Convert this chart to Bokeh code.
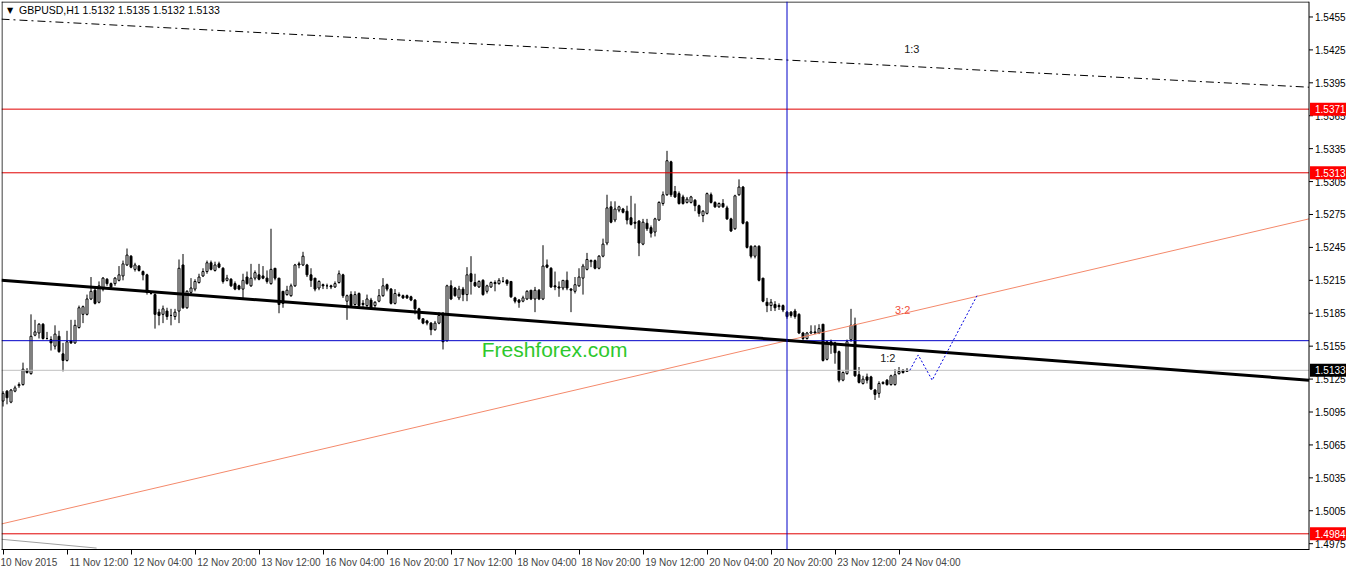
from bokeh.plotting import figure
from bokeh.models import Span, FixedTicker, Range1d, ColumnDataSource
from bokeh.core.properties import value
from bokeh.embed import file_html
from bokeh.resources import INLINE

# ---------------- data (GBPUSD H1) ----------------
opens = [1.5105,1.5114,1.5104,1.5114,1.5119,1.5120,1.5133,1.5130,1.5165,1.5167,
         1.5175,1.5162,1.5161,1.5155,1.5164,1.5148,1.5142,1.5160,1.5158,1.5172,
         1.5184,1.5184,1.5198,1.5206,1.5195,1.5207,1.5216,1.5212,1.5212,1.5215,
         1.5219,1.5229,1.5237,1.5225,1.5228,1.5223,1.5220,1.5203,1.5202,1.5186,
         1.5184,1.5187,1.5183,1.5182,1.5187,1.5229,1.5190,1.5204,1.5207,1.5213,
         1.5219,1.5223,1.5231,1.5224,1.5230,1.5226,1.5215,1.5216,1.5212,1.5210,
         1.5207,1.5218,1.5210,1.5217,1.5220,1.5219,1.5217,1.5212,1.5226,1.5217,
         1.5205,1.5202,1.5201,1.5210,1.5230,1.5229,1.5229,1.5220,1.5217,1.5208,
         1.5211,1.5210,1.5210,1.5209,1.5213,1.5220,1.5196,1.5202,1.5193,1.5203,
         1.5194,1.5192,1.5197,1.5192,1.5196,1.5201,1.5211,1.5207,1.5194,1.5202,
         1.5201,1.5201,1.5200,1.5197,1.5189,1.5180,1.5178,1.5176,1.5170,1.5176,
         1.5185,1.5160,1.5210,1.5208,1.5199,1.5207,1.5202,1.5221,1.5213,1.5209,
         1.5215,1.5205,1.5209,1.5213,1.5212,1.5214,1.5215,1.5214,1.5199,1.5197,
         1.5196,1.5198,1.5206,1.5198,1.5206,1.5198,1.5229,1.5226,1.5210,1.5209,
         1.5208,1.5215,1.5207,1.5205,1.5210,1.5217,1.5225,1.5232,1.5233,1.5226,
         1.5237,1.5249,1.5282,1.5270,1.5279,1.5280,1.5278,1.5272,1.5268,1.5269,
         1.5248,1.5267,1.5263,1.5259,1.5270,1.5285,1.5293,1.5323,1.5296,1.5294,
         1.5291,1.5286,1.5286,1.5288,1.5283,1.5274,1.5276,1.5293,1.5286,1.5282,
         1.5285,1.5281,1.5271,1.5262,1.5293,1.5300,1.5268,1.5246,1.5237,1.5246,
         1.5217,1.5195,1.5192,1.5193,1.5192,1.5192,1.5186,1.5186,1.5187,1.5184,
         1.5167,1.5162,1.5167,1.5168,1.5167,1.5175,1.5143,1.5159,1.5158,1.5150,
         1.5124,1.5130,1.5161,1.5175,1.5129,1.5121,1.5127,1.5127,1.5115,1.5112,
         1.5121,1.5124,1.5120,1.5120,1.5130,1.5133,1.5132]
highs = [1.5114,1.5115,1.5116,1.5119,1.5122,1.5140,1.5135,1.5184,1.5179,1.5176,
         1.5176,1.5168,1.5164,1.5174,1.5169,1.5158,1.5169,1.5179,1.5179,1.5192,
         1.5192,1.5202,1.5218,1.5209,1.5214,1.5218,1.5217,1.5213,1.5218,1.5228,
         1.5233,1.5244,1.5238,1.5231,1.5229,1.5224,1.5221,1.5205,1.5203,1.5189,
         1.5192,1.5190,1.5189,1.5189,1.5234,1.5239,1.5206,1.5217,1.5216,1.5221,
         1.5226,1.5233,1.5233,1.5232,1.5232,1.5227,1.5220,1.5217,1.5214,1.5211,
         1.5221,1.5223,1.5230,1.5224,1.5230,1.5228,1.5224,1.5262,1.5226,1.5217,
         1.5205,1.5210,1.5212,1.5230,1.5232,1.5241,1.5230,1.5226,1.5217,1.5215,
         1.5212,1.5212,1.5211,1.5214,1.5224,1.5221,1.5202,1.5205,1.5205,1.5204,
         1.5197,1.5202,1.5199,1.5196,1.5207,1.5217,1.5212,1.5208,1.5207,1.5204,
         1.5202,1.5202,1.5201,1.5198,1.5190,1.5180,1.5179,1.5177,1.5178,1.5186,
         1.5186,1.5211,1.5215,1.5209,1.5210,1.5209,1.5227,1.5237,1.5221,1.5215,
         1.5216,1.5211,1.5214,1.5215,1.5217,1.5218,1.5216,1.5214,1.5200,1.5198,
         1.5201,1.5206,1.5206,1.5209,1.5207,1.5247,1.5234,1.5227,1.5223,1.5214,
         1.5215,1.5223,1.5208,1.5218,1.5226,1.5230,1.5240,1.5234,1.5234,1.5238,
         1.5253,1.5293,1.5287,1.5287,1.5283,1.5281,1.5283,1.5292,1.5285,1.5270,
         1.5271,1.5271,1.5265,1.5272,1.5287,1.5296,1.5333,1.5324,1.5301,1.5296,
         1.5293,1.5291,1.5292,1.5289,1.5284,1.5279,1.5295,1.5295,1.5287,1.5286,
         1.5289,1.5283,1.5272,1.5293,1.5307,1.5301,1.5269,1.5247,1.5247,1.5247,
         1.5217,1.5199,1.5198,1.5196,1.5194,1.5193,1.5187,1.5187,1.5189,1.5185,
         1.5168,1.5168,1.5174,1.5174,1.5175,1.5175,1.5160,1.5161,1.5159,1.5151,
         1.5132,1.5161,1.5189,1.5181,1.5136,1.5128,1.5130,1.5128,1.5116,1.5123,
         1.5123,1.5125,1.5129,1.5134,1.5136,1.5134,1.5135]
lows = [1.5100,1.5102,1.5103,1.5113,1.5117,1.5119,1.5130,1.5129,1.5164,1.5162,
        1.5161,1.5161,1.5151,1.5152,1.5149,1.5132,1.5141,1.5157,1.5157,1.5171,
        1.5176,1.5183,1.5197,1.5193,1.5194,1.5205,1.5210,1.5208,1.5210,1.5214,
        1.5215,1.5228,1.5226,1.5223,1.5223,1.5215,1.5202,1.5202,1.5171,1.5174,
        1.5176,1.5179,1.5174,1.5179,1.5176,1.5189,1.5189,1.5202,1.5205,1.5212,
        1.5218,1.5221,1.5224,1.5223,1.5226,1.5212,1.5214,1.5209,1.5206,1.5206,
        1.5198,1.5211,1.5209,1.5215,1.5215,1.5216,1.5212,1.5211,1.5215,1.5185,
        1.5190,1.5201,1.5200,1.5209,1.5226,1.5228,1.5218,1.5209,1.5205,1.5206,
        1.5207,1.5207,1.5207,1.5208,1.5212,1.5199,1.5179,1.5190,1.5192,1.5190,
        1.5189,1.5189,1.5189,1.5190,1.5195,1.5200,1.5205,1.5193,1.5193,1.5200,
        1.5198,1.5198,1.5196,1.5184,1.5179,1.5175,1.5174,1.5165,1.5169,1.5175,
        1.5152,1.5159,1.5197,1.5200,1.5197,1.5196,1.5196,1.5202,1.5209,1.5208,
        1.5201,1.5203,1.5208,1.5205,1.5211,1.5213,1.5210,1.5199,1.5194,1.5190,
        1.5195,1.5197,1.5197,1.5186,1.5197,1.5197,1.5226,1.5208,1.5206,1.5200,
        1.5206,1.5206,1.5186,1.5203,1.5209,1.5202,1.5224,1.5227,1.5225,1.5225,
        1.5236,1.5247,1.5267,1.5268,1.5277,1.5276,1.5266,1.5265,1.5262,1.5237,
        1.5247,1.5260,1.5254,1.5255,1.5269,1.5283,1.5292,1.5291,1.5290,1.5284,
        1.5284,1.5285,1.5285,1.5278,1.5273,1.5268,1.5275,1.5285,1.5281,1.5281,
        1.5281,1.5270,1.5259,1.5261,1.5292,1.5266,1.5244,1.5235,1.5235,1.5214,
        1.5195,1.5186,1.5187,1.5187,1.5188,1.5186,1.5180,1.5181,1.5180,1.5166,
        1.5159,1.5161,1.5166,1.5166,1.5166,1.5141,1.5142,1.5148,1.5139,1.5122,
        1.5123,1.5129,1.5159,1.5127,1.5121,1.5120,1.5121,1.5115,1.5106,1.5108,
        1.5120,1.5119,1.5119,1.5119,1.5129,1.5130,1.5132]
closes = [1.5112,1.5108,1.5115,1.5117,1.5120,1.5134,1.5131,1.5164,1.5168,1.5175,
          1.5162,1.5162,1.5158,1.5166,1.5150,1.5142,1.5159,1.5158,1.5174,1.5190,
          1.5191,1.5198,1.5205,1.5194,1.5210,1.5217,1.5212,1.5209,1.5217,1.5220,
          1.5230,1.5238,1.5227,1.5229,1.5224,1.5220,1.5204,1.5203,1.5184,1.5183,
          1.5189,1.5182,1.5183,1.5186,1.5226,1.5190,1.5205,1.5208,1.5214,1.5218,
          1.5223,1.5231,1.5225,1.5229,1.5227,1.5214,1.5217,1.5210,1.5207,1.5207,
          1.5215,1.5212,1.5217,1.5222,1.5216,1.5217,1.5214,1.5225,1.5217,1.5193,
          1.5194,1.5206,1.5210,1.5229,1.5229,1.5237,1.5220,1.5215,1.5207,1.5214,
          1.5210,1.5210,1.5209,1.5212,1.5221,1.5201,1.5201,1.5192,1.5202,1.5192,
          1.5193,1.5198,1.5190,1.5195,1.5201,1.5210,1.5207,1.5194,1.5203,1.5201,
          1.5199,1.5199,1.5197,1.5189,1.5180,1.5176,1.5176,1.5170,1.5176,1.5183,
          1.5159,1.5210,1.5198,1.5201,1.5207,1.5202,1.5220,1.5214,1.5210,1.5214,
          1.5202,1.5210,1.5213,1.5212,1.5215,1.5214,1.5212,1.5200,1.5196,1.5195,
          1.5199,1.5205,1.5198,1.5206,1.5198,1.5228,1.5227,1.5209,1.5209,1.5208,
          1.5215,1.5208,1.5206,1.5211,1.5218,1.5228,1.5234,1.5233,1.5226,1.5237,
          1.5248,1.5281,1.5268,1.5280,1.5282,1.5277,1.5270,1.5266,1.5267,1.5249,
          1.5268,1.5262,1.5258,1.5271,1.5286,1.5293,1.5324,1.5293,1.5291,1.5285,
          1.5285,1.5289,1.5291,1.5283,1.5276,1.5278,1.5294,1.5286,1.5282,1.5285,
          1.5282,1.5271,1.5260,1.5292,1.5300,1.5267,1.5245,1.5237,1.5246,1.5215,
          1.5196,1.5192,1.5195,1.5190,1.5191,1.5188,1.5182,1.5183,1.5182,1.5167,
          1.5162,1.5167,1.5168,1.5167,1.5171,1.5142,1.5159,1.5156,1.5149,1.5124,
          1.5131,1.5159,1.5174,1.5128,1.5122,1.5125,1.5124,1.5116,1.5111,1.5121,
          1.5122,1.5120,1.5128,1.5129,1.5132,1.5131,1.5133]

tick_bars = [0, 16, 32, 48, 64, 80, 96, 112, 128, 144, 160, 176, 192, 208, 224]
tick_labels = ["10 Nov 2015", "11 Nov 12:00", "12 Nov 04:00", "12 Nov 20:00",
               "13 Nov 12:00", "16 Nov 04:00", "16 Nov 20:00", "17 Nov 12:00",
               "18 Nov 04:00", "18 Nov 20:00", "19 Nov 12:00", "20 Nov 04:00",
               "20 Nov 20:00", "23 Nov 12:00", "24 Nov 04:00"]
price_ticks = [1.4975, 1.5005, 1.5035, 1.5065, 1.5095, 1.5125, 1.5155, 1.5185,
               1.5215, 1.5245, 1.5275, 1.5305, 1.5335, 1.5365, 1.5395, 1.5425, 1.5455]

# horizontal levels and price tags
red_levels = [1.5371, 1.5313, 1.4984]
blue_level = 1.5160
bid_level = 1.5133
vline_bar = 196
tag_levels = [1.5371, 1.5313, 1.4984, 1.5133]
tag_colors = ["#ff0000", "#ff0000", "#ff0000", "#000000"]

# drawn trend lines (bar index, price)
dashdot_x, dashdot_y = [-0.375, 326.5], [1.5453, 1.5391]
thick_x, thick_y = [-0.375, 326.5], [1.5215, 1.5124]
salmon_x, salmon_y = [-0.375, 326.5], [1.4993, 1.5271]
grey_x, grey_y = [-0.375, 23.4], [1.4979, 1.4971]
proj_x, proj_y = [226.7, 228.8, 232.3, 243.5], [1.5133, 1.5147, 1.5124, 1.5201]

# ---------------- figure ----------------
FW, FH = 1345, 548
X0 = -0.375                 # left edge of the chart (bars)
AX = 326.5                  # price scale line position (bars)
Y0, Y1 = 1.49697, 1.54691
PX = (Y1 - Y0) / FH         # price per pixel

p = figure(frame_width=FW, frame_height=FH,
           x_range=Range1d(X0, X0 + FW / 4.0), y_range=Range1d(Y0, Y1),
           y_axis_location=None, output_backend="svg", toolbar_location=None,
           min_border_left=1, min_border_top=1, min_border_right=0, min_border_bottom=0,
           background_fill_color="white", border_fill_color="white")
p.outline_line_color = None
p.xgrid.visible = False
p.ygrid.visible = False

FONT = "Liberation Sans"
NB = "\u00a0"

# time axis: labels start at their tick (MetaTrader style)
xax = p.xaxis[0]
xax.ticker = FixedTicker(ticks=tick_bars)
xax.major_label_overrides = {
    b: (l if i == 0 else NB * 23 + l)
    for i, (b, l) in enumerate(zip(tick_bars, tick_labels))}
xax.major_label_text_font = FONT
xax.major_label_text_font_size = "10px"
xax.major_tick_out = 5
xax.major_tick_in = 0
xax.minor_tick_out = 0
xax.minor_tick_in = 0
xax.major_label_standoff = 2
xax.axis_line_color = "black"
xax.bounds = (X0, AX)

# candles
bars = list(range(len(closes)))
up = [c >= o for o, c in zip(opens, closes)]
src = ColumnDataSource(dict(
    x=bars, o=opens, h=highs, l=lows, c=closes,
    top=[max(o, c) for o, c in zip(opens, closes)],
    bot=[min(o, c) for o, c in zip(opens, closes)],
    fill=["white" if u else "black" for u in up]))
p.segment(x0="x", y0="l", x1="x", y1="h", source=src, line_color="black", line_width=1)
p.vbar(x="x", top="top", bottom="bot", width=0.5, source=src,
       fill_color="fill", line_color="black", line_width=1)

# horizontal levels (up to the price scale)
for lv in red_levels:
    p.segment(x0=[X0], y0=[lv], x1=[AX], y1=[lv], line_color="#e00000", line_width=1)
p.segment(x0=[X0], y0=[blue_level], x1=[AX], y1=[blue_level], line_color="#0000c8", line_width=1)
p.segment(x0=[X0], y0=[bid_level], x1=[AX], y1=[bid_level], line_color="#c0c0c0", line_width=1)
p.add_layout(Span(location=vline_bar, dimension="height", line_color="#0000c8", line_width=1))

# trend lines
p.line(grey_x, grey_y, line_color="#a0a0a0", line_width=1)
p.line(salmon_x, salmon_y, line_color="#F4896B", line_width=1)
p.line(dashdot_x, dashdot_y, line_color="black", line_width=1, line_dash="8 4 2 4")
p.line(thick_x, thick_y, line_color="black", line_width=3)
p.line(proj_x, proj_y, line_color="#0000e0", line_width=1, line_dash="2 2")

# chart border (left and top) and price scale line with ticks
p.segment(x0=[X0 + 0.125], y0=[Y0], x1=[X0 + 0.125], y1=[Y1], line_color="black", line_width=1)
p.segment(x0=[X0], y0=[Y1 - 0.5 * PX], x1=[AX], y1=[Y1 - 0.5 * PX], line_color="black", line_width=1)
p.segment(x0=[AX], y0=[Y0], x1=[AX], y1=[Y1], line_color="black", line_width=1)
p.segment(x0=[AX] * len(price_ticks), y0=price_ticks, x1=[AX + 1.0] * len(price_ticks),
          y1=price_ticks, line_color="black", line_width=1)
p.text(x=[AX + 1.5] * len(price_ticks), y=price_ticks,
       text=[f"{t:.4f}" for t in price_ticks], text_font=value(FONT),
       text_font_size="10px", text_align="left", text_baseline="middle", text_color="black")

# price tags over the scale
p.rect(x=[AX + 0.25 + 37 / 8.0] * len(tag_levels), y=tag_levels, width=37, height=13,
       width_units="screen", height_units="screen", fill_color=tag_colors, line_color=None)
p.text(x=[AX + 1.5] * len(tag_levels), y=tag_levels, text=[f"{t:.4f}" for t in tag_levels],
       text_font=value(FONT), text_font_size="10px", text_align="left",
       text_baseline="middle", text_color="white")

# texts
p.text(x=[1.0], y=[1.5461], text=["\u25BC"], text_font=value("DejaVu Sans"),
       text_font_size="8px", text_align="left", text_baseline="middle", text_color="black")
p.text(x=[4.0], y=[1.5461], text=["GBPUSD,H1  1.5132 1.5135 1.5132 1.5133"],
       text_font=value(FONT), text_font_size="10.5px", text_align="left",
       text_baseline="middle", text_color="black")
p.text(x=[227.2], y=[1.5426], text=["1:3"], text_font=value(FONT), text_font_size="11px",
       text_align="center", text_baseline="middle", text_color="#202020")
p.text(x=[224.9], y=[1.5188], text=["3:2"], text_font=value(FONT), text_font_size="11px",
       text_align="center", text_baseline="middle", text_color="#F05040")
p.text(x=[221.2], y=[1.5144], text=["1:2"], text_font=value(FONT), text_font_size="11px",
       text_align="center", text_baseline="middle", text_color="#202020")
p.text(x=[137.9], y=[1.5152], text=["Freshforex.com"], text_font=value(FONT),
       text_font_size="21px", text_align="center", text_baseline="middle", text_color="#2DC82D")

open("out.html", "w").write(file_html(p, INLINE))
